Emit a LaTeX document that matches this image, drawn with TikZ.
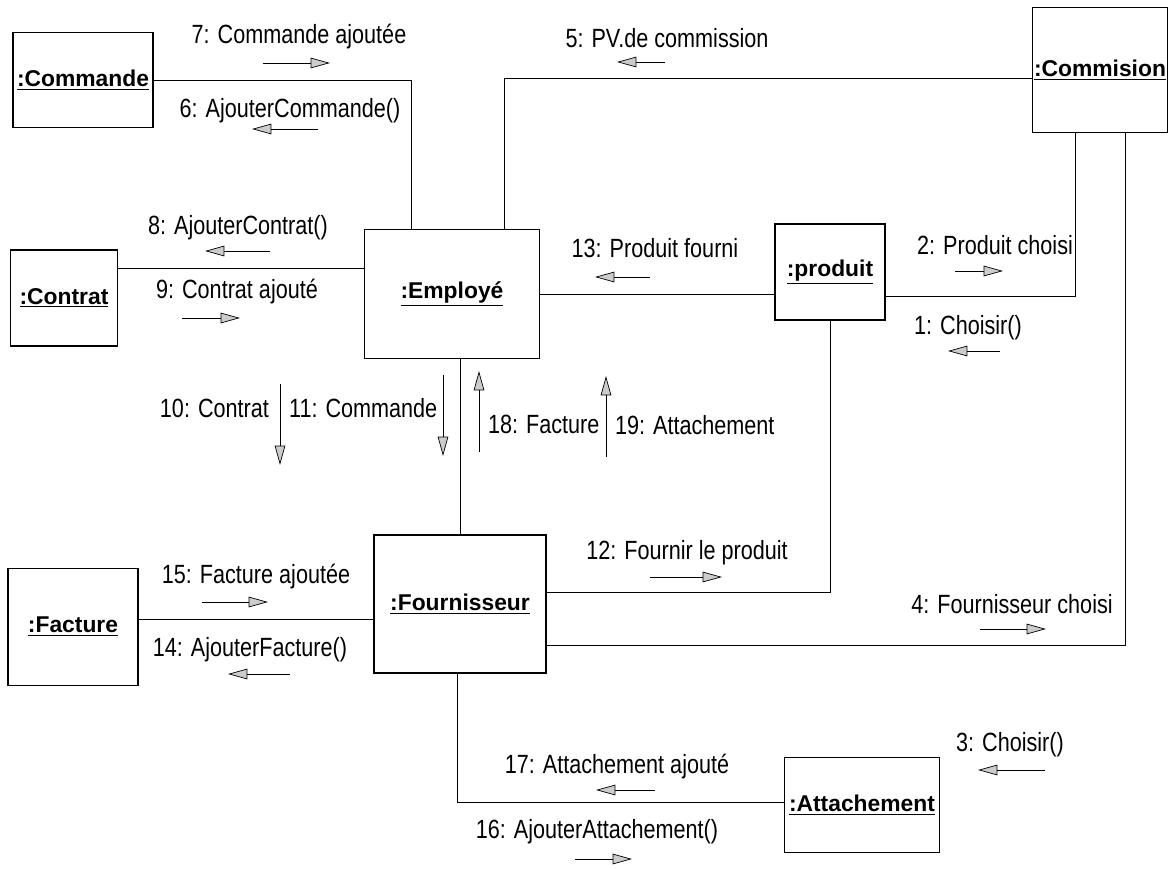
\documentclass[tikz,border=0pt]{standalone}
\usepackage{fontspec}
\setmainfont{Liberation Sans}
\newfontfamily\narrowfont{Liberation Sans}[FakeStretch=0.82]
\usetikzlibrary{arrows.meta}
\tikzset{
  obj/.style={draw, line width=0.9pt, inner sep=0pt, font=\bfseries\fontsize{13}{15}\selectfont},
  link/.style={line width=0.5pt},
  msg/.style={line width=0.5pt, -{Triangle[length=11pt,width=6pt,fill=gray!40,line width=0.4pt]}},
  lbl/.style={inner sep=1pt, font=\narrowfont\fontsize{15}{17}\selectfont}
}
\begin{document}
\begin{tikzpicture}[x=0.02cm, y=-0.02cm]
      \useasboundingbox (0,0) rectangle (1171,869);
      % objects
      \node[obj, minimum width=2.8cm, minimum height=1.9cm] (com) at (83,80) {\underline{:Commande}};
      \node[obj, minimum width=2.14cm, minimum height=1.92cm] (ctr) at (64,298) {\underline{:Contrat}};
      \node[obj, minimum width=3.5cm, minimum height=2.58cm] (emp) at (452,294) {\underline{:Employé}};
      \node[obj, minimum width=2.2cm, minimum height=1.92cm] (prod) at (830,272) {\underline{:produit}};
      \node[obj, minimum width=2.7cm, minimum height=2.5cm] (comm) at (1100,70) {\underline{:Commision}};
      \node[obj, minimum width=2.6cm, minimum height=2.34cm] (fac) at (73,627) {\underline{:Facture}};
      \node[obj, minimum width=3.44cm, minimum height=2.76cm] (four) at (460,604) {\underline{:Fournisseur}};
      \node[obj, minimum width=3.1cm, minimum height=1.9cm] (att) at (862,805) {\underline{:Attachement}};
      % links
      \begin{scope}[link]
        \draw (com.east) -| ([xshift=-0.82cm]emp.north);
        \draw ([yshift=0.6cm]ctr.east) -- ([yshift=0.6cm]ctr.east -| emp.west);
        \draw ([yshift=-0.16cm]comm.west) -| ([xshift=1.04cm]emp.north);
        \draw (emp.east) -- (emp.east -| prod.west);
        \draw ([yshift=-0.48cm]prod.east) -| ([xshift=-0.5cm]comm.south);
        \draw (prod.south) |- ([yshift=0.24cm]four.east);
        \draw ([yshift=-0.82cm]four.east) -| ([xshift=0.5cm]comm.south);
        \draw (four.north) -- (four.north |- emp.south);
        \draw ([yshift=-0.3cm]four.west) -- ([yshift=-0.3cm]four.west -| fac.east);
        \draw ([xshift=-0.06cm]four.south) |- ([yshift=0.06cm]att.west);
      \end{scope}
      % messages
      \node[lbl] (m7) at (299,37) {7: Commande ajoutée};
      \draw[msg] (263,63) -- (330,63);
      \node[lbl] (m6) at (290,111) {6: AjouterCommande()};
      \draw[msg] (318,129) -- (252,129);
      \node[lbl] (m5) at (667,38) {5: PV.de commission};
      \draw[msg] (665,62) -- (617,62);
      \node[lbl] (m8) at (238,228) {8: AjouterContrat()};
      \draw[msg] (270,251) -- (205,251);
      \node[lbl] (m9) at (237,292) {9: Contrat ajouté};
      \draw[msg] (182,318) -- (240,318);
      \node[lbl] (m13) at (655,248) {13: Produit fourni};
      \draw[msg] (650,277) -- (595,277);
      \node[lbl] (m2) at (995,245) {2: Produit choisi};
      \draw[msg] (955,271) -- (1003,271);
      \node[lbl] (m1) at (968,328) {1: Choisir()};
      \draw[msg] (1000,351) -- (948,351);
      \node[lbl, anchor=east] (m10) at (271,408) {10: Contrat};
      \draw[msg] (280,384) -- (280,465);
      \node[lbl, anchor=west] (m11) at (287,408) {11: Commande};
      \draw[msg] (443,375) -- (443,456);
      \node[lbl, anchor=west] (m18) at (486,424) {18: Facture};
      \draw[msg] (479,452) -- (479,371);
      \node[lbl, anchor=west] (m19) at (613,425) {19: Attachement};
      \draw[msg] (606,457) -- (606,376);
      \node[lbl] (m12) at (687,553) {12: Fournir le produit};
      \draw[msg] (650,577) -- (722,577);
      \node[lbl] (m15) at (256,577) {15: Facture ajoutée};
      \draw[msg] (202,602) -- (268,602);
      \node[lbl] (m14) at (250,650) {14: AjouterFacture()};
      \draw[msg] (290,674) -- (228,674);
      \node[lbl] (m4) at (1012,604) {4: Fournisseur choisi};
      \draw[msg] (980,629) -- (1046,629);
      \node[lbl] (m3) at (1010,745) {3: Choisir()};
      \draw[msg] (1045,770) -- (978,770);
      \node[lbl] (m17) at (617,767) {17: Attachement ajouté};
      \draw[msg] (655,790) -- (596,790);
      \node[lbl] (m16) at (597,832) {16: AjouterAttachement()};
      \draw[msg] (575,859) -- (632,859);
    \end{tikzpicture}
\end{document}
